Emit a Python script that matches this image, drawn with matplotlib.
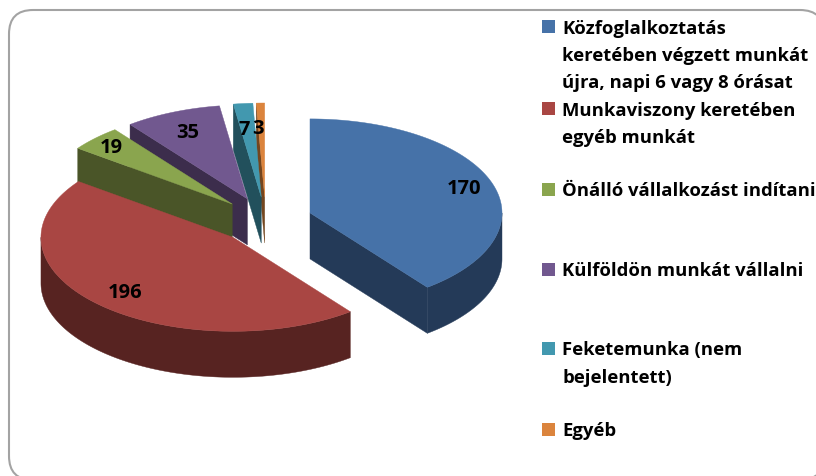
import math
import matplotlib
matplotlib.use("Agg")
import matplotlib.pyplot as plt
import numpy as np
from matplotlib.patches import FancyBboxPatch, Polygon, Rectangle

values = [170, 196, 19, 35, 7, 3]
legend_labels = [
    "Közfoglalkoztatás\nkeretében végzett munkát\nújra, napi 6 vagy 8 órásat",
    "Munkaviszony keretében\negyéb munkát",
    "Önálló vállalkozást indítani",
    "Külföldön munkát vállalni",
    "Feketemunka (nem\nbejelentett)",
    "Egyéb",
]
top_colors = ["#4672A8", "#A94643", "#8AA54E", "#71588F", "#4298AF", "#DB843D"]
side_colors = ["#243A58", "#572321", "#4A5528", "#3C2D4C", "#22505C", "#74461F"]

# pie geometry in pixels
cx, cy = 265.7, 220.5
rx, ry = 192.0, 94.0
depth = 46.0
explode_x, explode_y = 46.8, 23.5

label_frac = [0.85, 0.80, 0.88, 0.79, 0.74, 0.74]
label_dx = [0, 0, 0, 0, -4, -4]
legend_y = [27, 109, 190, 270, 349, 430]
line_step = 27.2


def arc(x0, y0, a0, a1):
    t = np.radians(np.linspace(a0, a1, max(int(abs(a1 - a0)) * 2, 2)))
    return np.column_stack([x0 + rx * np.sin(t), y0 - ry * np.cos(t)])


def edge(x0, y0, a):
    r = math.radians(a)
    return [x0 + rx * math.sin(r), y0 - ry * math.cos(r)]


def drawSlice(ax, i, a0, a1):
    mid = math.radians((a0 + a1) / 2)
    x0 = cx + explode_x * math.sin(mid)
    y0 = cy - explode_y * math.cos(mid)
    side = side_colors[i]

    # cut faces turned to the viewer
    if a0 > 180:
        p = edge(x0, y0, a0)
        pts = [[x0, y0], p, [p[0], p[1] + depth], [x0, y0 + depth]]
        ax.add_patch(Polygon(pts, fc=side, ec=side, lw=0.3))
    if a1 < 180:
        p = edge(x0, y0, a1)
        pts = [[x0, y0], p, [p[0], p[1] + depth], [x0, y0 + depth]]
        ax.add_patch(Polygon(pts, fc=side, ec=side, lw=0.3))

    # outer wall, front half only
    w0, w1 = max(a0, 90), min(a1, 270)
    if w1 > w0:
        rim = arc(x0, y0, w0, w1)
        low = rim[::-1] + [0, depth]
        ax.add_patch(Polygon(np.vstack([rim, low]), fc=side, ec=side, lw=0.3))

    top = np.vstack([[[x0, y0]], arc(x0, y0, a0, a1)])
    ax.add_patch(Polygon(top, fc=top_colors[i], ec=top_colors[i], lw=0.3))
    return x0, y0, mid


fig = plt.figure(figsize=(8.16, 4.76), dpi=100)
ax = fig.add_axes([0, 0, 1, 1])
ax.set_xlim(0, 816)
ax.set_ylim(476, 0)
ax.axis("off")

ax.add_patch(FancyBboxPatch((9, 10), 815, 470, boxstyle="round,pad=0,rounding_size=24",
                            fc="white", ec="#a3a3a3", lw=1.5))

total = sum(values)
angles = [0]
for v in values:
    angles.append(angles[-1] + v / total * 360)

centers = {}
# back slices first, red comes last since it sits in front
for i in [5, 4, 3, 2, 0, 1]:
    centers[i] = drawSlice(ax, i, angles[i], angles[i + 1])

for i, v in enumerate(values):
    x0, y0, mid = centers[i]
    lx = x0 + label_frac[i] * rx * math.sin(mid) + label_dx[i]
    ly = y0 - label_frac[i] * ry * math.cos(mid) + 2
    ax.text(lx, ly, str(v), ha="center", va="center", family="Open Sans",
            weight="bold", fontsize=14.5, color="black")

for i, label in enumerate(legend_labels):
    y = legend_y[i]
    ax.add_patch(Rectangle((542, y - 7), 13, 12.5, fc=top_colors[i], ec="none"))
    for n, line in enumerate(label.split("\n")):
        ax.text(562, y + 1.5 + n * line_step, line, ha="left", va="center", family="Open Sans",
                weight="bold", fontsize=13.3, color="black")

plt.savefig("out.png", dpi=100)
